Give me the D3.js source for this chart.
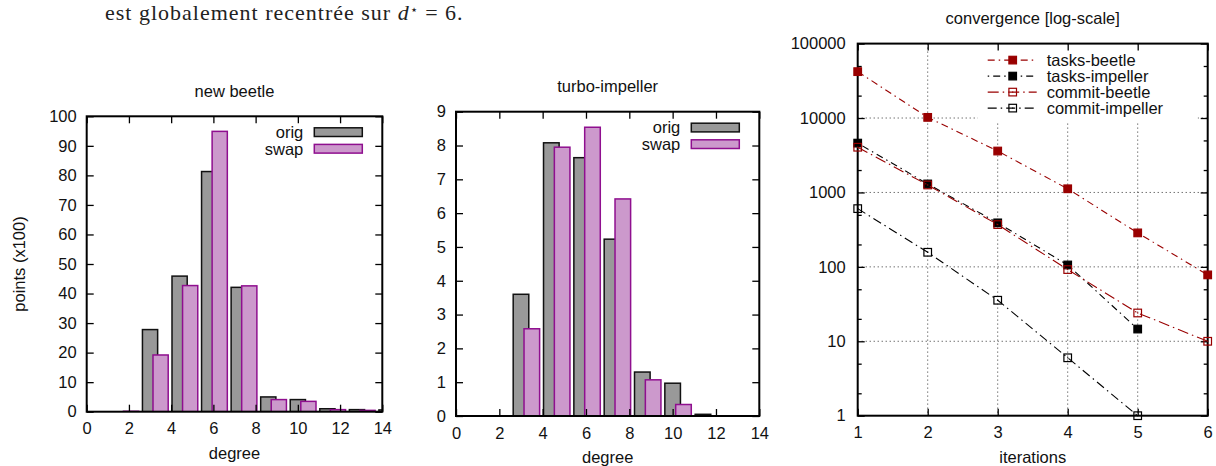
<!DOCTYPE html>
<html>
<head>
<meta charset="utf-8">
<script src="https://cdn.jsdelivr.net/npm/d3@7"></script>
<style>
body { margin: 0; background: #fff; }
text { font-family: "Liberation Sans", Arial, Helvetica, sans-serif; }
</style>
</head>
<body>
<div id="fig"></div>
<script>
// degree bins (x position of the "orig" bar on the degree axis)
var binX = [1.6, 3.0, 4.4, 5.8, 7.2, 8.6, 10.0, 11.4, 12.8, 14.2];
var degreeTicks = [0, 2, 4, 6, 8, 10, 12, 14];

// new beetle, points (x100)
var beetleOrig = [0, 27.8, 45.9, 81.3, 42.1, 5.0, 4.1, 1.0, 0.7, 0.6];
var beetleSwap = [0.15, 19.2, 42.7, 94.9, 42.6, 4.1, 3.5, 0.7, 0.45, 0.3];
var beetleYTicks = [0, 10, 20, 30, 40, 50, 60, 70, 80, 90, 100];

// turbo-impeller, points (x100)
var impOrig = [0, 3.6, 8.08, 7.64, 5.23, 1.30, 0.97, 0.05, 0, 0];
var impSwap = [0, 2.58, 7.95, 8.54, 6.42, 1.07, 0.34, 0, 0, 0];
var impYTicks = [0, 1, 2, 3, 4, 5, 6, 7, 8, 9];

// convergence
var iterations = [1, 2, 3, 4, 5, 6];
var tasksBeetle = [42000, 10200, 3600, 1120, 286, 78];
var tasksImpeller = [4600, 1300, 390, 106, 14.6];
var commitBeetle = [4050, 1260, 370, 92, 24, 10];
var commitImpeller = [606, 157, 35.6, 6, 1];
var logTicks = [1, 10, 100, 1000, 10000, 100000];
var logMinor = [2, 5, 20, 50, 200, 500, 2000, 5000, 20000, 50000];

var FS = "16.5px";
var W = 1216, H = 466;

var svg = d3.select("#fig").append("svg")
  .attr("width", W).attr("height", H);

// line of text from the page above the figure
var head = svg.append("text")
  .attr("x", 105).attr("y", 20)
  .style("font-family", "'Liberation Serif', 'DejaVu Serif', serif")
  .style("font-size", "22px")
  .style("letter-spacing", "1px")
  .attr("fill", "#222");
head.append("tspan").text("est globalement recentrée sur ");
head.append("tspan").style("font-style", "italic").text("d");
head.append("tspan").attr("dy", -6).style("font-size", "13px").text("⋆");
head.append("tspan").attr("dy", 6).text(" = 6.");

function styleAxis(g) {
  g.select(".domain").remove();
  g.selectAll("line").attr("stroke", "#000").attr("stroke-width", 1.3);
  g.selectAll("text").style("font-size", FS).attr("fill", "#111")
    .style("font-family", "'Liberation Sans', Arial, sans-serif");
}

function barChart(o) {
  var x = d3.scaleLinear().domain([0, 14]).range([o.left, o.right]);
  var y = d3.scaleLinear().domain([0, o.yMax]).range([o.bottom, o.top]);
  var g = svg.append("g");

  var clipId = "clip" + o.id;
  svg.append("clipPath").attr("id", clipId).append("rect")
    .attr("x", o.left).attr("y", o.top)
    .attr("width", o.right - o.left).attr("height", o.bottom - o.top);

  var bars = g.append("g").attr("clip-path", "url(#" + clipId + ")");
  var bw = 0.72;

  bars.selectAll("rect.orig").data(o.orig).enter().append("rect")
    .attr("class", "orig")
    .attr("x", function(d, i) { return x(binX[i] - bw / 2); })
    .attr("y", function(d) { return y(d); })
    .attr("width", x(bw) - x(0))
    .attr("height", function(d) { return y(0) - y(d); })
    .attr("fill", "#999999")
    .attr("stroke", "#111").attr("stroke-width", 1.5);

  bars.selectAll("rect.swap").data(o.swap).enter().append("rect")
    .attr("class", "swap")
    .attr("x", function(d, i) { return x(binX[i] + 0.5 - bw / 2); })
    .attr("y", function(d) { return y(d); })
    .attr("width", x(bw) - x(0))
    .attr("height", function(d) { return y(0) - y(d); })
    .attr("fill", "#cc99cc")
    .attr("stroke", "#8f0f8f").attr("stroke-width", 1.5);

  // axes, gnuplot style: ticks inside, mirrored
  g.append("g").attr("transform", "translate(0," + o.bottom + ")")
    .call(d3.axisBottom(x).tickValues(degreeTicks).tickSizeInner(-7).tickSizeOuter(0).tickPadding(11))
    .call(styleAxis);
  g.append("g").attr("transform", "translate(0," + o.top + ")")
    .call(d3.axisTop(x).tickValues(degreeTicks).tickSizeInner(-7).tickSizeOuter(0).tickFormat(""))
    .call(styleAxis);
  g.append("g").attr("transform", "translate(" + o.left + ",0)")
    .call(d3.axisLeft(y).tickValues(o.yTicks).tickSizeInner(-7).tickSizeOuter(0).tickPadding(10))
    .call(styleAxis);
  g.append("g").attr("transform", "translate(" + o.right + ",0)")
    .call(d3.axisRight(y).tickValues(o.yTicks).tickSizeInner(-7).tickSizeOuter(0).tickFormat(""))
    .call(styleAxis);

  g.append("rect")
    .attr("x", o.left).attr("y", o.top)
    .attr("width", o.right - o.left).attr("height", o.bottom - o.top)
    .attr("fill", "none").attr("stroke", "#000").attr("stroke-width", 2);

  // legend
  var leg = [["orig", "#999999", "#111"], ["swap", "#cc99cc", "#8f0f8f"]];
  leg.forEach(function(l, i) {
    var by = o.top + 11.5 + i * 16.6;
    g.append("rect")
      .attr("x", o.right - 68).attr("y", by)
      .attr("width", 48).attr("height", 8.7)
      .attr("fill", l[1]).attr("stroke", l[2]).attr("stroke-width", 1.5);
    g.append("text")
      .attr("x", o.right - 79).attr("y", by + 4.35).attr("dy", "0.35em")
      .attr("text-anchor", "end").style("font-size", FS).attr("fill", "#111")
      .text(l[0]);
  });

  g.append("text")
    .attr("x", (o.left + o.right) / 2).attr("y", o.titleY)
    .attr("text-anchor", "middle").style("font-size", FS).attr("fill", "#111")
    .text(o.title);
  g.append("text")
    .attr("x", (o.left + o.right) / 2).attr("y", o.bottom + 47)
    .attr("text-anchor", "middle").style("font-size", FS).attr("fill", "#111")
    .text("degree");

  if (o.ylabel) {
    g.append("text")
      .attr("transform", "translate(25," + ((o.top + o.bottom) / 2) + ")rotate(-90)")
      .attr("text-anchor", "middle").style("font-size", FS).attr("fill", "#111")
      .text(o.ylabel);
  }
}

barChart({ id: 1, left: 86.7, right: 382.3, top: 116.3, bottom: 411.7,
  yMax: 100, yTicks: beetleYTicks, orig: beetleOrig, swap: beetleSwap,
  title: "new beetle", titleY: 96.7, ylabel: "points (x100)" });

barChart({ id: 2, left: 456, right: 759.3, top: 111.7, bottom: 416,
  yMax: 9, yTicks: impYTicks, orig: impOrig, swap: impSwap,
  title: "turbo-impeller", titleY: 92 });

// ---- convergence chart (log scale)
var cm = { left: 857.7, right: 1207.7, top: 43.6, bottom: 415.7 };
var cx = d3.scaleLinear().domain([1, 6]).range([cm.left, cm.right]);
var cy = d3.scaleLog().domain([1, 100000]).range([cm.bottom, cm.top]);
var cg = svg.append("g");

// grid
cg.selectAll("line.gx").data(iterations.slice(1, 5)).enter().append("line")
  .attr("x1", function(d) { return cx(d); }).attr("x2", function(d) { return cx(d); })
  .attr("y1", cm.top).attr("y2", cm.bottom)
  .attr("stroke", "#333").attr("stroke-width", 1).attr("stroke-dasharray", "1,3");
cg.selectAll("line.gy").data(logTicks.slice(1, 5)).enter().append("line")
  .attr("x1", cm.left).attr("x2", cm.right)
  .attr("y1", function(d) { return cy(d); }).attr("y2", function(d) { return cy(d); })
  .attr("stroke", "#333").attr("stroke-width", 1).attr("stroke-dasharray", "1,3");

// legend background hides the grid under it
cg.append("rect").attr("x", cm.right - 230).attr("y", cm.top + 1)
  .attr("width", 220).attr("height", 77).attr("fill", "#fff");

var fmt = function(d) { return String(d); };
cg.append("g").attr("transform", "translate(0," + cm.bottom + ")")
  .call(d3.axisBottom(cx).tickValues(iterations).tickSizeInner(-7).tickSizeOuter(0).tickPadding(11).tickFormat(fmt))
  .call(styleAxis);
cg.append("g").attr("transform", "translate(0," + cm.top + ")")
  .call(d3.axisTop(cx).tickValues(iterations).tickSizeInner(-7).tickSizeOuter(0).tickFormat(""))
  .call(styleAxis);
cg.append("g").attr("transform", "translate(" + cm.left + ",0)")
  .call(d3.axisLeft(cy).tickValues(logTicks).tickSizeInner(-7).tickSizeOuter(0).tickPadding(12).tickFormat(fmt))
  .call(styleAxis);
cg.append("g").attr("transform", "translate(" + cm.right + ",0)")
  .call(d3.axisRight(cy).tickValues(logTicks).tickSizeInner(-7).tickSizeOuter(0).tickFormat(""))
  .call(styleAxis);
cg.append("g").attr("transform", "translate(" + cm.left + ",0)")
  .call(d3.axisLeft(cy).tickValues(logMinor).tickSizeInner(-4).tickSizeOuter(0).tickFormat(""))
  .call(styleAxis);
cg.append("g").attr("transform", "translate(" + cm.right + ",0)")
  .call(d3.axisRight(cy).tickValues(logMinor).tickSizeInner(-4).tickSizeOuter(0).tickFormat(""))
  .call(styleAxis);

cg.append("rect")
  .attr("x", cm.left).attr("y", cm.top)
  .attr("width", cm.right - cm.left).attr("height", cm.bottom - cm.top)
  .attr("fill", "none").attr("stroke", "#000").attr("stroke-width", 2);

var series = [
  { name: "tasks-beetle", vals: tasksBeetle, color: "#990000", filled: true, dash: "7,4,1.5,4" },
  { name: "tasks-impeller", vals: tasksImpeller, color: "#000000", filled: true, dash: "1.5,4,7,4" },
  { name: "commit-beetle", vals: commitBeetle, color: "#990000", filled: false, dash: "11,4,1.5,4" },
  { name: "commit-impeller", vals: commitImpeller, color: "#000000", filled: false, dash: "9,4,1.5,4" }
];

var line = d3.line()
  .x(function(d, i) { return cx(iterations[i]); })
  .y(function(d) { return cy(d); });

function marker(sel, s, px, py) {
  sel.append("rect")
    .attr("x", px - 3.8).attr("y", py - 3.8).attr("width", 7.6).attr("height", 7.6)
    .attr("fill", s.filled ? s.color : "none")
    .attr("stroke", s.color).attr("stroke-width", 1.2);
  if (!s.filled) {
    sel.append("rect").attr("x", px - 0.6).attr("y", py - 0.6)
      .attr("width", 1.2).attr("height", 1.2).attr("fill", s.color);
  }
}

series.forEach(function(s) {
  cg.append("path").datum(s.vals)
    .attr("d", line)
    .attr("fill", "none").attr("stroke", s.color).attr("stroke-width", 1.1)
    .attr("stroke-dasharray", s.dash);
  s.vals.forEach(function(v, i) { marker(cg, s, cx(iterations[i]), cy(v)); });
});

// legend
series.forEach(function(s, i) {
  var ly = cm.top + 16.5 + i * 16;
  cg.append("line")
    .attr("x1", cm.right - 220).attr("x2", cm.right - 171)
    .attr("y1", ly).attr("y2", ly)
    .attr("stroke", s.color).attr("stroke-width", 1.1).attr("stroke-dasharray", s.dash);
  marker(cg, s, cm.right - 195, ly);
  cg.append("text")
    .attr("x", cm.right - 161).attr("y", ly).attr("dy", "0.35em")
    .style("font-size", FS).attr("fill", "#111")
    .text(s.name);
});

cg.append("text")
  .attr("x", (cm.left + cm.right) / 2).attr("y", 24)
  .attr("text-anchor", "middle").style("font-size", FS).attr("fill", "#111")
  .text("convergence [log-scale]");
cg.append("text")
  .attr("x", (cm.left + cm.right) / 2).attr("y", 463)
  .attr("text-anchor", "middle").style("font-size", FS).attr("fill", "#111")
  .text("iterations");
</script>
</body>
</html>
